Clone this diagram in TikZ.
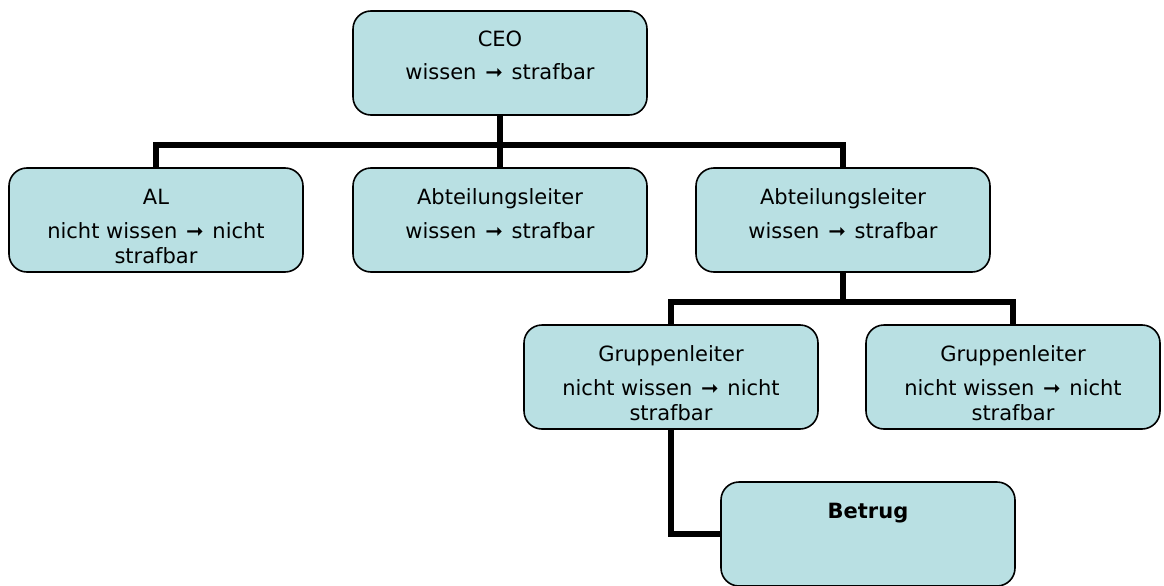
\documentclass[tikz,border=0pt]{standalone}
\usepackage{fontspec}
\setmainfont{DejaVu Sans}
\definecolor{boxfill}{RGB}{185,224,227}
\pgfdeclarelayer{background}
\pgfsetlayers{background,main}
\tikzset{
  orgbox/.style={draw=black, line width=1.6pt, fill=boxfill, rounded corners=18pt,
    minimum width=294pt, minimum height=104pt, inner sep=0pt},
  txt/.style={anchor=base, inner sep=0pt, font=\fontsize{21}{25}\selectfont, text=black},
  conn/.style={draw=black, line width=5.5pt, line join=miter}
}
\newcommand{\arr}{\hspace{0.1em}\textbf{➞}\hspace{0.1em}}
\begin{document}
\begin{tikzpicture}[x=1pt,y=-1pt]
\useasboundingbox (0,0) rectangle (1164,586);
\coordinate (bus1) at (500,145);
\coordinate (bus2) at (843,302);
\node[orgbox] (ceo) at (500,63) {};
\node[orgbox] (al) at (156,220) {};
\node[orgbox] (abt1) at (500,220) {};
\node[orgbox] (abt2) at (843,220) {};
\node[orgbox] (gl1) at (671,377) {};
\node[orgbox] (gl2) at (1013,377) {};
\node[orgbox] (betrug) at (868,534) {};
\begin{pgfonlayer}{background}
\draw[conn] (ceo.south) -- (abt1.north);
\draw[conn] (al.north) |- (bus1) -| (abt2.north);
\draw[conn] (abt2.south) -- (bus2);
\draw[conn] (gl1.north) |- (bus2) -| (gl2.north);
\draw[conn] (gl1.south) |- (betrug.west);
\end{pgfonlayer}
% texts
\node[txt] (t1) at (500,47) {CEO};
\node[txt] (t2) at (500,80) {wissen \arr{} strafbar};
\node[txt] (t3) at (156,204) {AL};
\node[txt] (t4) at (156,238) {nicht wissen \arr{} nicht};
\node[txt] (t5) at (156,263) {strafbar};
\node[txt] (t6) at (500,204) {Abteilungsleiter};
\node[txt] (t7) at (500,238) {wissen \arr{} strafbar};
\node[txt] (t8) at (843,204) {Abteilungsleiter};
\node[txt] (t9) at (843,238) {wissen \arr{} strafbar};
\node[txt] (t10) at (671,361) {Gruppenleiter};
\node[txt] (t11) at (671,395) {nicht wissen \arr{} nicht};
\node[txt] (t12) at (671,420) {strafbar};
\node[txt] (t13) at (1013,361) {Gruppenleiter};
\node[txt] (t14) at (1013,395) {nicht wissen \arr{} nicht};
\node[txt] (t15) at (1013,420) {strafbar};
\node[txt, font=\fontsize{21}{25}\selectfont\bfseries] (t16) at (868,518) {Betrug};
\end{tikzpicture}
\end{document}
